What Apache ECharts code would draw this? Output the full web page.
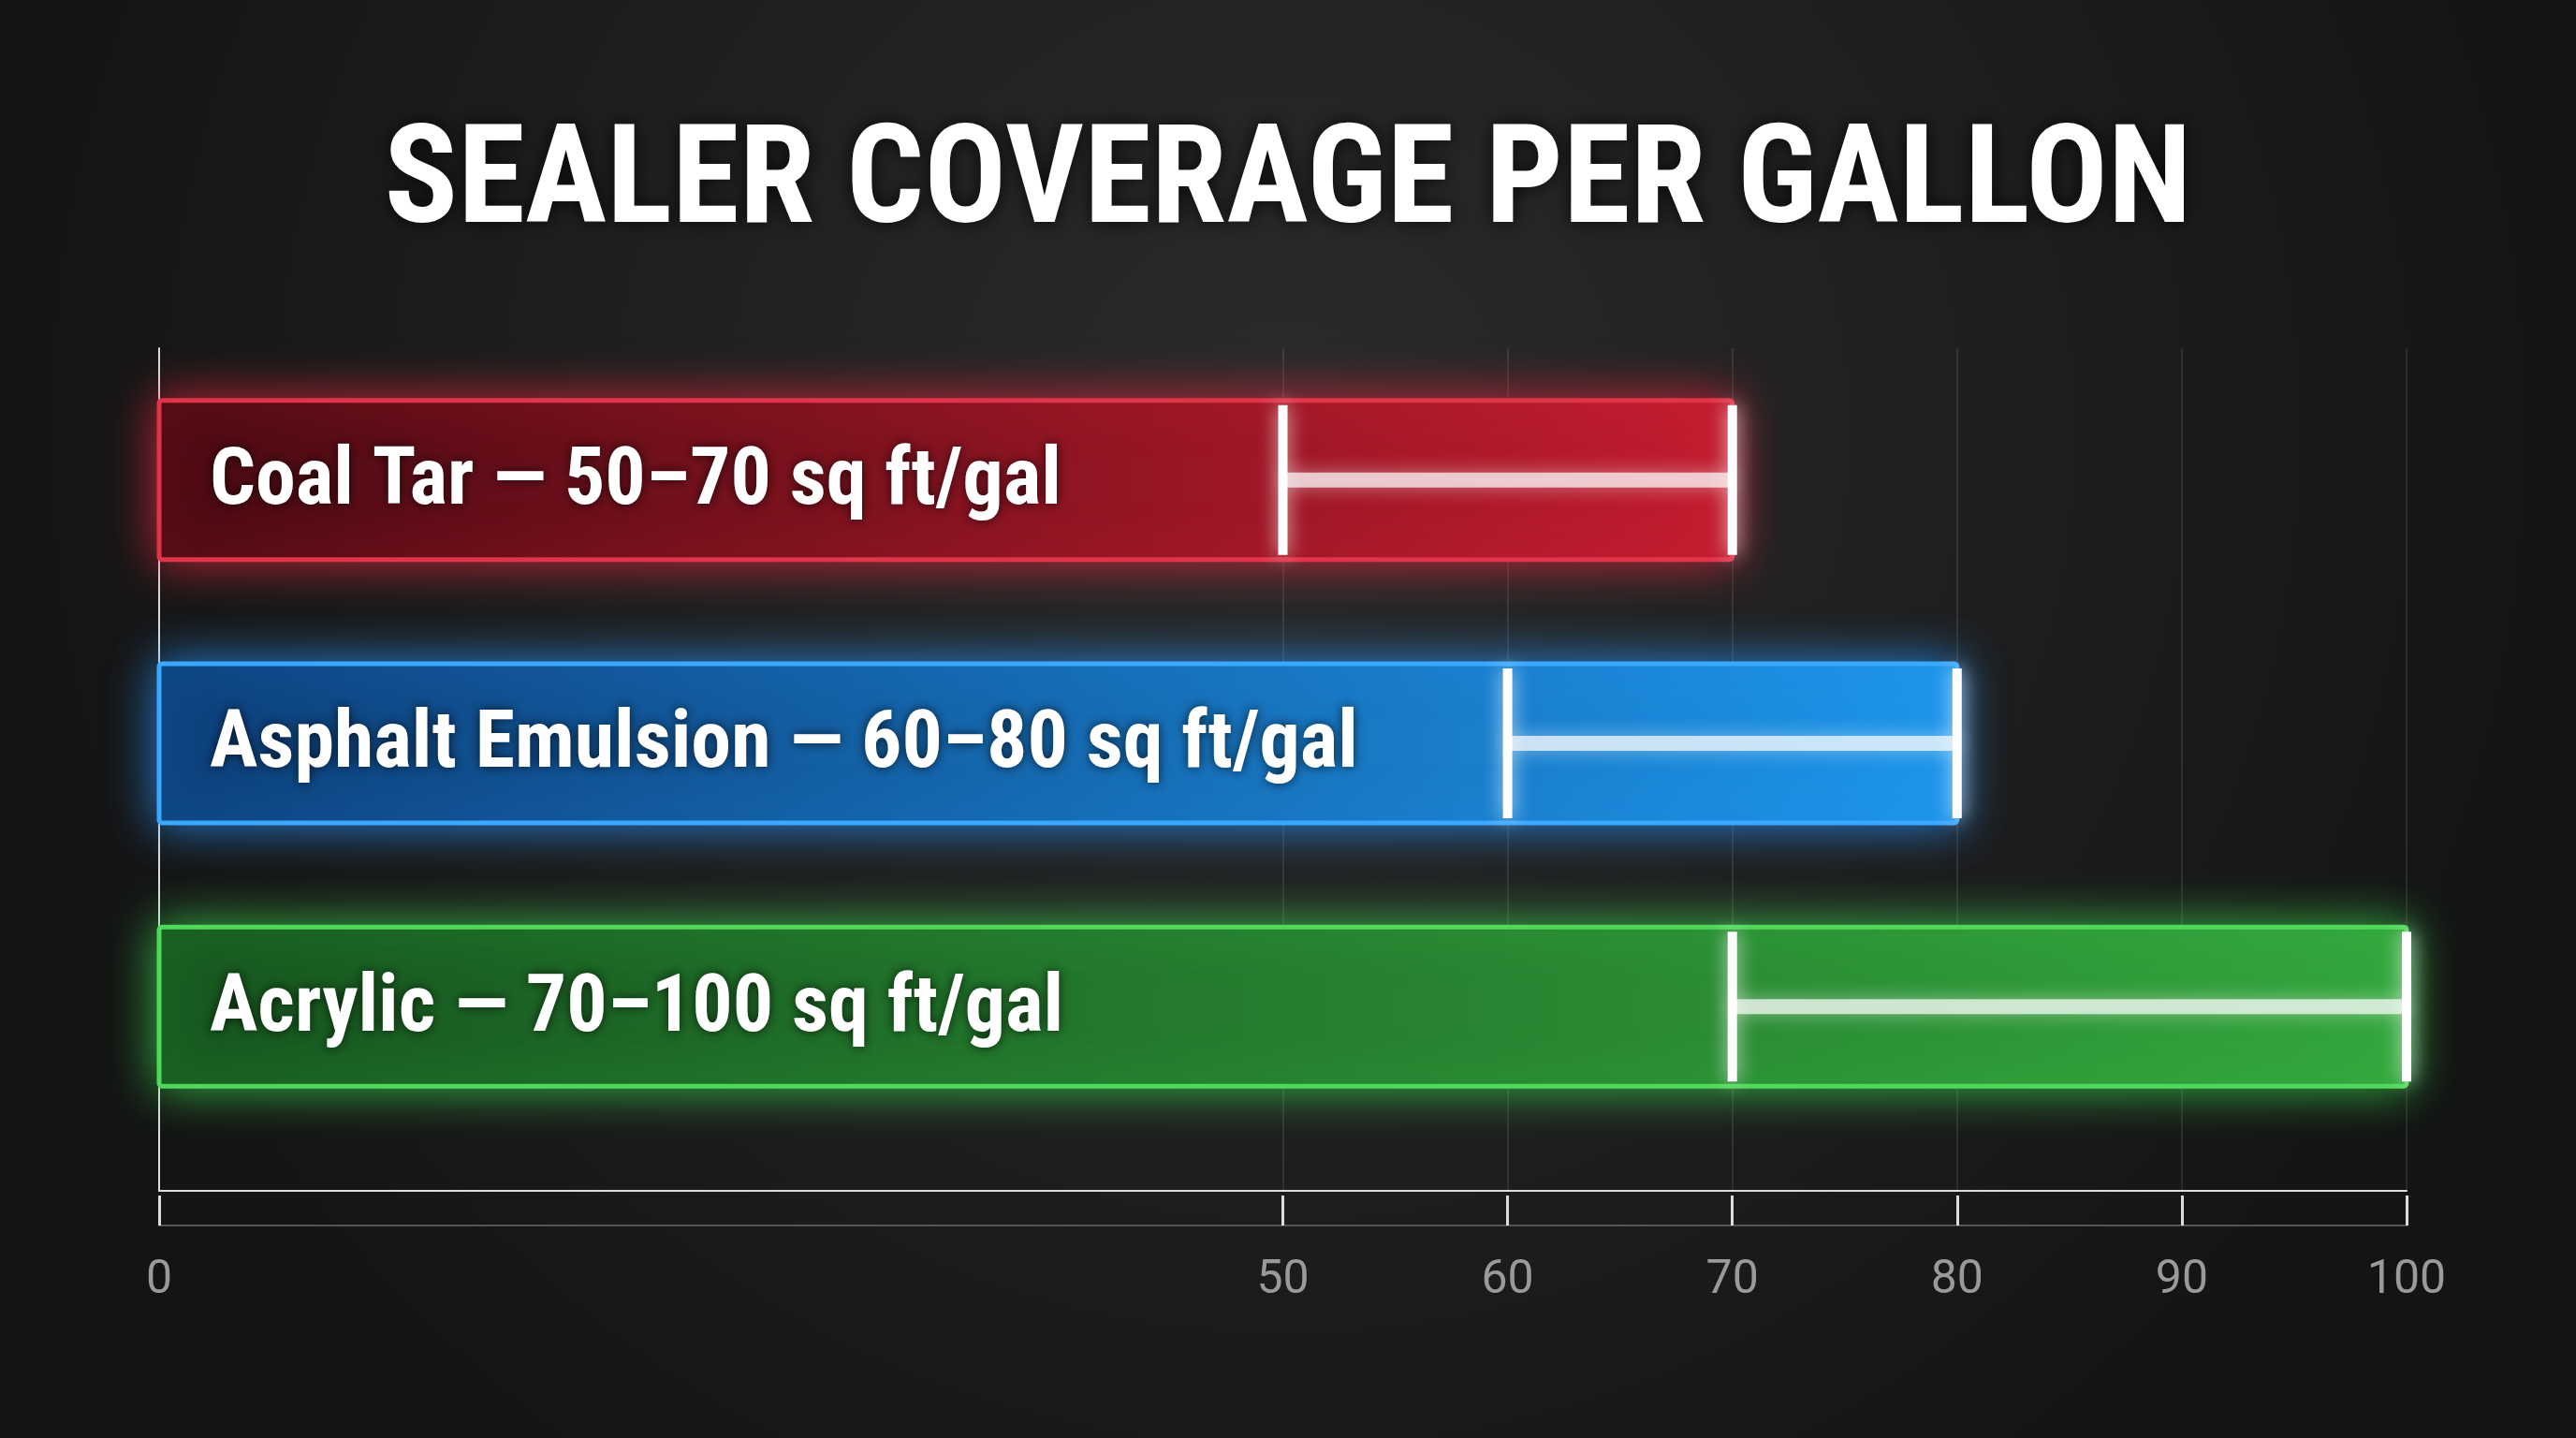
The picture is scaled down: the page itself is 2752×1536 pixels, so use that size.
<!DOCTYPE html>
<html>
<head>
<meta charset="utf-8">
<script src="https://cdn.jsdelivr.net/npm/echarts@6/dist/echarts.min.js"></script>
<style>html,body{margin:0;padding:0;background:#1a1a1a}#main{width:2752px;height:1536px}</style>
</head>
<body>
<div id="main"></div>
<script>
// data
var categories = ['Coal Tar', 'Asphalt Emulsion', 'Acrylic'];
var lowValues = [50, 60, 70];
var highValues = [70, 80, 100];
var tickValues = [0, 50, 60, 70, 80, 90, 100];
var colors = [
    {dark: '#4a0a12', light: '#c21d30', border: '#e0344a', glow: 'rgba(230,40,60,0.8)'},
    {dark: '#0d3f7a', light: '#1e96ea', border: '#3aa8ff', glow: 'rgba(40,150,255,0.8)'},
    {dark: '#17561f', light: '#34a53e', border: '#4fd85a', glow: 'rgba(60,220,80,0.8)'}
];

var myChart = echarts.init(document.getElementById('main'));

var seriesData = categories.map(function (c, i) {
    return [i + 1, lowValues[i], highValues[i]];
});

function renderItem(params, api) {
    var i = params.dataIndex;
    var y = api.value(0), lo = api.value(1), hi = api.value(2);
    var p0 = api.coord([0, y]);
    var pLo = api.coord([lo, y]);
    var pHi = api.coord([hi, y]);
    var h = 170, cap = 160;
    var col = colors[i];
    return {
        type: 'group',
        children: [
            {
                type: 'rect',
                shape: {x: p0[0], y: p0[1] - h / 2, width: pHi[0] - p0[0], height: h, r: 3},
                style: {
                    fill: new echarts.graphic.LinearGradient(0, 0, 1, 0, [
                        {offset: 0, color: col.dark},
                        {offset: 1, color: col.light}
                    ]),
                    stroke: col.border,
                    lineWidth: 5,
                    shadowBlur: 50,
                    shadowColor: col.glow
                }
            },
            {
                type: 'line',
                shape: {x1: pLo[0], y1: pLo[1], x2: pHi[0], y2: pHi[1]},
                style: {stroke: 'rgba(255,255,255,0.7)', lineWidth: 16, shadowBlur: 20, shadowColor: 'rgba(255,255,255,0.6)'}
            },
            {
                type: 'line',
                shape: {x1: pLo[0], y1: pLo[1] - cap / 2, x2: pLo[0], y2: pLo[1] + cap / 2},
                style: {stroke: '#ffffff', lineWidth: 10, shadowBlur: 20, shadowColor: 'rgba(255,255,255,0.8)'}
            },
            {
                type: 'line',
                shape: {x1: pHi[0], y1: pHi[1] - cap / 2, x2: pHi[0], y2: pHi[1] + cap / 2},
                style: {stroke: '#ffffff', lineWidth: 10, shadowBlur: 20, shadowColor: 'rgba(255,255,255,0.8)'}
            },
            {
                type: 'text',
                x: p0[0] + 54,
                y: p0[1] + 4,
                style: {
                    text: categories[i] + ' \u2014 ' + lo + '\u2013' + hi + ' sq ft/gal',
                    fill: '#ffffff',
                    font: 'bold 86px "Roboto Condensed", "Liberation Sans Narrow", sans-serif',
                    verticalAlign: 'middle',
                    textShadowBlur: 12,
                    textShadowColor: 'rgba(0,0,0,0.7)'
                }
            }
        ]
    };
}

var option = {
    backgroundColor: new echarts.graphic.RadialGradient(0.5, 0.3, 0.9, [
        {offset: 0, color: '#2b2b2c'},
        {offset: 1, color: '#141414'}
    ]),
    title: {
        text: 'SEALER COVERAGE PER GALLON',
        left: 'center',
        top: 122,
        textStyle: {
            color: '#ffffff',
            fontSize: 146,
            fontWeight: 'bold',
            fontFamily: '"Roboto Condensed", "Liberation Sans Narrow", sans-serif',
            textShadowBlur: 20,
            textShadowColor: 'rgba(0,0,0,0.8)'
        }
    },
    grid: {left: 170, right: 181, top: 372, bottom: 264},
    xAxis: [
        {
            type: 'value', min: 0, max: 100, interval: 10,
            offset: 37,
            axisLine: {show: true, lineStyle: {color: '#555', width: 2}},
            axisTick: {show: true, inside: true, length: 32, customValues: tickValues, lineStyle: {color: '#ddd', width: 3}},
            axisLabel: {customValues: tickValues, color: '#9a9a9a', fontSize: 50, margin: 34, fontFamily: 'Roboto, sans-serif'},
            splitLine: {show: true, lineStyle: {color: 'rgba(255,255,255,0.09)', width: 2}}
        },
        {
            type: 'value', min: 0, max: 100, position: 'bottom',
            axisLine: {show: true, lineStyle: {color: '#dddddd', width: 2}},
            axisTick: {show: false}, axisLabel: {show: false}, splitLine: {show: false}
        }
    ],
    yAxis: {
        type: 'value', min: 0.5, max: 3.7, inverse: true,
        axisLine: {show: true, lineStyle: {color: '#dddddd', width: 2}},
        axisTick: {show: false}, axisLabel: {show: false}, splitLine: {show: false}
    },
    series: [{
        type: 'custom',
        renderItem: renderItem,
        encode: {x: [1, 2], y: 0},
        data: seriesData
    }]
};

myChart.setOption(option);
</script>
</body>
</html>
